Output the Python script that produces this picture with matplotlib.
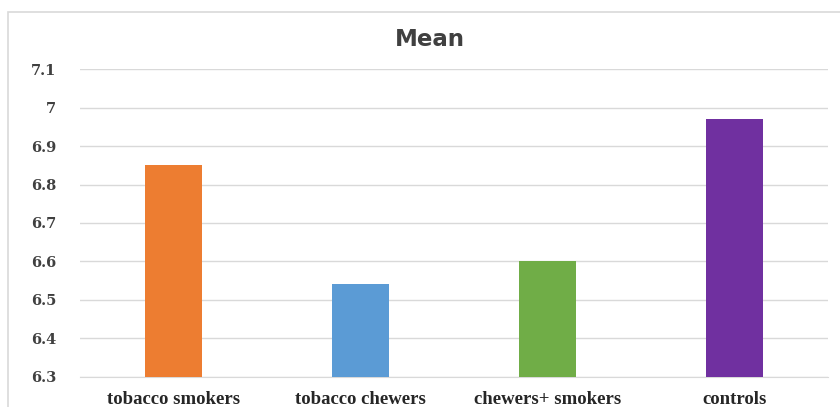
import matplotlib
matplotlib.use("Agg")
import matplotlib.pyplot as plt
from matplotlib.patches import Rectangle

groups = ["tobacco smokers", "tobacco chewers", "chewers+ smokers", "controls"]
means = [6.85, 6.54, 6.60, 6.97]
bar_colors = ["#ED7D31", "#5B9BD5", "#70AD47", "#7030A0"]
y_ticks = [6.3, 6.4, 6.5, 6.6, 6.7, 6.8, 6.9, 7.0, 7.1]
y_labels = ["6.3", "6.4", "6.5", "6.6", "6.7", "6.8", "6.9", "7", "7.1"]

W, H = 840, 407
fig = plt.figure(figsize=(W / 100, H / 100), dpi=100)

# light chart-area frame
fig.patches.append(Rectangle((8 / W, -0.05), 1.0, 1 - 12 / H + 0.05,
                             transform=fig.transFigure, fill=False,
                             edgecolor="#d9d9d9", linewidth=1.2))

ax = fig.add_axes([80 / W, 30.3 / H, 748 / W, 307.4 / H])
x = range(len(groups))
ax.bar(x, [m - 6.3 for m in means], bottom=6.3, width=0.31,
       color=bar_colors, zorder=3)

ax.set_ylim(6.3, 7.1)
ax.set_xlim(-0.5, len(groups) - 0.5)
ax.set_yticks(y_ticks)
ax.set_yticklabels(y_labels, fontfamily="DejaVu Serif", fontweight="bold",
                   fontsize=10.5, color="#404040")
ax.set_xticks(list(x))
ax.set_xticklabels(groups, fontfamily="Liberation Serif", fontweight="bold",
                   fontsize=13.5, color="#262626")
ax.tick_params(axis="y", length=0, pad=17)
ax.tick_params(axis="x", length=0, pad=10)
ax.grid(axis="y", color="#d9d9d9", linewidth=1, zorder=0)
for side in ["top", "right", "left"]:
    ax.spines[side].set_visible(False)
ax.spines["bottom"].set_color("#d9d9d9")

fig.text(430 / W, 1 - 39 / H, "Mean", ha="center", va="center",
         fontsize=16.5, fontweight="bold", color="#404040")

fig.savefig("out.png", dpi=100)
